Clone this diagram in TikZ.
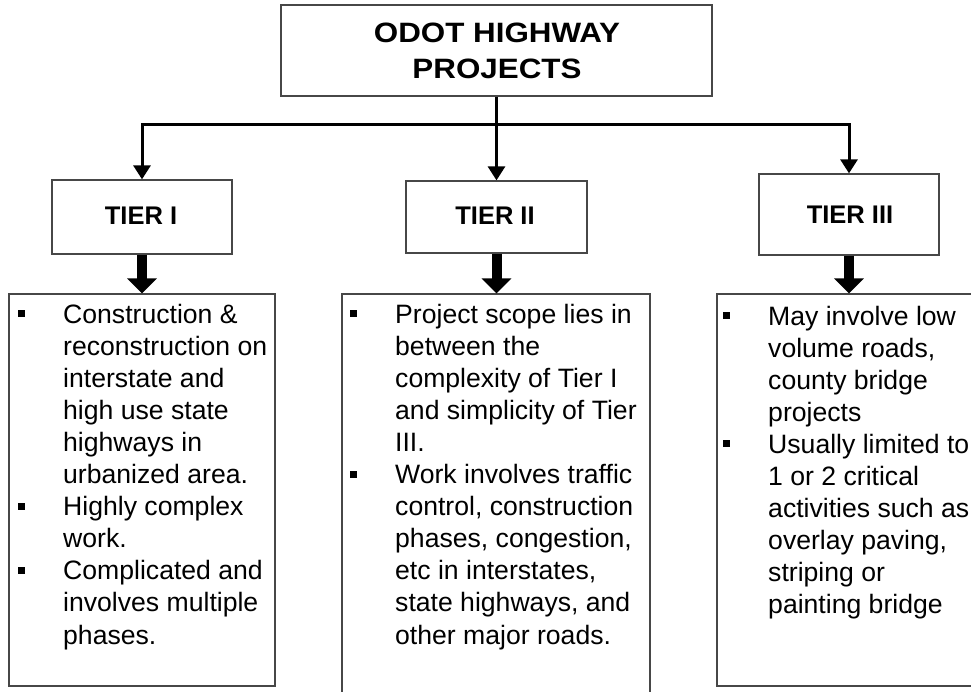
\documentclass[tikz,border=0pt]{standalone}
\usepackage{fontspec}
\setmainfont{Liberation Sans}
\newfontfamily\mytitlefont[FakeStretch=1.12]{Liberation Sans}
\usetikzlibrary{arrows.meta}
\newcommand\myBody{\fontsize{26.6}{32.1}\selectfont}
\newcommand\mybul{\leavevmode\llap{\raisebox{6pt}{\rule{7pt}{7pt}}\hspace{38pt}}}
\tikzset{
  box/.style={draw=black!72, line width=1.3pt, fill=white, inner sep=0pt},
  txt/.style={anchor=base west, inner sep=0pt},
  tiertxt/.style={anchor=base, inner sep=0pt, font=\fontsize{25.5}{30}\selectfont\bfseries},
  thinconn/.style={line width=3pt, black},
  thickarr/.style={line width=10pt, black, -{Triangle[width=29pt,length=15pt]}}
}
\begin{document}
\begin{tikzpicture}[x=1pt,y=-1pt]
\useasboundingbox (0,0) rectangle (971,691);
\clip (0,0) rectangle (971,691);
\fill[white] (0,0) rectangle (971,691);

% boxes
\node[box, minimum width=431pt, minimum height=91pt] (top) at (496.5,50.5) {};
\node[box, minimum width=180pt, minimum height=74pt] (t1) at (142,217) {};
\node[box, minimum width=181pt, minimum height=72pt] (t2) at (496.5,217) {};
\node[box, minimum width=180pt, minimum height=81pt] (t3) at (849,214.5) {};
\node[box, minimum width=266pt, minimum height=392pt] (b1) at (142,490) {};
\node[box, minimum width=308pt, minimum height=410pt] (b2) at (496,499) {};
\node[box, minimum width=273pt, minimum height=392pt] (b3) at (853.5,490) {};

% connectors
\coordinate (h) at (496.5,124);
\draw[thinconn, -{Triangle[width=17pt,length=14pt]}] (top.south) -- (t2.north);
\draw[thinconn, {Triangle[width=17pt,length=14pt]}-{Triangle[width=17pt,length=14pt]}]
  (t1.north) -- (t1.north |- h) -- (t3.north |- h) -- (t3.north);
\draw[thickarr] (t1.south) -- (b1.north);
\draw[thickarr] (t2.south) -- (t2.south |- b2.north);
\draw[thickarr] (t3.south) -- (t3.south |- b3.north);

% texts
\node[anchor=base, inner sep=0pt] (title) at (497,42)
  {\parbox[t]{420pt}{\centering\mytitlefont\fontsize{28}{36}\selectfont\bfseries ODOT HIGHWAY\\PROJECTS}};
\node[tiertxt] (l1) at (141,224) {TIER I};
\node[tiertxt] (l2) at (495,224) {TIER II};
\node[tiertxt] (l3) at (850,223) {TIER III};

\node[txt] (x1) at (63,323) {\parbox[t]{300pt}{\myBody\raggedright
\mybul Construction \&\\
reconstruction on\\
interstate and\\
high use state\\
highways in\\
urbanized area.\\
\mybul Highly complex\\
work.\\
\mybul Complicated and\\
involves multiple\\
phases.}};

\node[txt] (x2) at (395,323) {\parbox[t]{300pt}{\myBody\raggedright
\mybul Project scope lies in\\
between the\\
complexity of Tier I\\
and simplicity of Tier\\
III.\\
\mybul Work involves traffic\\
control, construction\\
phases, congestion,\\
etc in interstates,\\
state highways, and\\
other major roads.}};

\node[txt] (x3) at (768,325) {\parbox[t]{300pt}{\myBody\raggedright
\mybul May involve low\\
volume roads,\\
county bridge\\
projects\\
\mybul Usually limited to\\
1 or 2 critical\\
activities such as\\
overlay paving,\\
striping or\\
painting bridge}};
\end{tikzpicture}
\end{document}
